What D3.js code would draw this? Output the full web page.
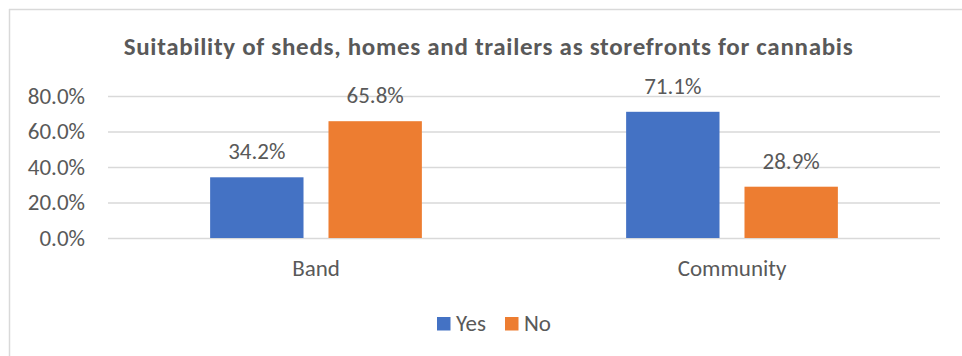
<!DOCTYPE html>
<html>
<head>
<meta charset="utf-8">
<script src="https://cdn.jsdelivr.net/npm/d3@7"></script>
<style>
  html, body { margin: 0; padding: 0; background: #fff; }
  svg text { font-family: Carlito, Calibri, Lato, sans-serif; fill: #595959; }
</style>
</head>
<body>
<svg id="chart" width="962" height="356"></svg>
<script>
// Survey results: share of respondents by group
const categories = ["Band", "Community"];
const seriesNames = ["Yes", "No"];
const yesValues = [34.2, 71.1];
const noValues = [65.8, 28.9];
const yTicks = [0, 20, 40, 60, 80];
const colors = ["#4472C4", "#ED7D31"];
const title = "Suitability of sheds, homes and trailers as storefronts for cannabis";

const rows = categories.map((c, i) => ({ category: c, values: [yesValues[i], noValues[i]] }));

const svg = d3.select("#chart");
const W = 962, H = 356;
const margin = { left: 108, right: 22, top: 96, bottom: 118 };
const labelSize = 23;

// chart area frame (top and left edges)
svg.append("line").attr("x1", 9).attr("x2", W).attr("y1", 9.5).attr("y2", 9.5)
  .attr("stroke", "#d9d9d9").attr("stroke-width", 1.5);
svg.append("line").attr("x1", 9.5).attr("x2", 9.5).attr("y1", 9).attr("y2", H)
  .attr("stroke", "#d9d9d9").attr("stroke-width", 1.5);

const x0 = d3.scaleBand().domain(categories)
  .range([margin.left, W - margin.right])
  .paddingInner(0.491).paddingOuter(0.2455);
const x1 = d3.scaleBand().domain(seriesNames)
  .range([0, x0.bandwidth()])
  .paddingInner(0.211).paddingOuter(0);
const y = d3.scaleLinear().domain([0, 80]).range([H - margin.bottom, margin.top]);

// gridlines and y axis labels
const yAxis = d3.axisLeft(y).tickValues(yTicks)
  .tickFormat(d => d.toFixed(1) + "%")
  .tickSize(-(W - margin.left - margin.right)).tickPadding(23);
const gy = svg.append("g").attr("transform", `translate(${margin.left},0)`).call(yAxis);
gy.select(".domain").remove();
gy.selectAll(".tick line").attr("stroke", "#d9d9d9").attr("stroke-width", 1.3);
gy.selectAll(".tick text").attr("font-size", labelSize).style("fill", "#595959")
  .style("font-family", "Carlito, Calibri, Lato, sans-serif");

// bars
const groups = svg.append("g").selectAll("g").data(rows).join("g")
  .attr("transform", d => `translate(${x0(d.category)},0)`);
groups.selectAll("rect").data(d => d.values.map((v, i) => ({ key: seriesNames[i], v, i })))
  .join("rect")
  .attr("x", d => x1(d.key))
  .attr("width", x1.bandwidth())
  .attr("y", d => y(d.v))
  .attr("height", d => y(0) - y(d.v))
  .attr("fill", d => colors[d.i]);

// value labels
groups.selectAll("text.val").data(d => d.values.map((v, i) => ({ key: seriesNames[i], v, i })))
  .join("text").attr("class", "val")
  .attr("x", d => x1(d.key) + x1.bandwidth() / 2)
  .attr("y", d => y(d.v) - 18)
  .attr("text-anchor", "middle")
  .attr("font-size", labelSize)
  .text(d => d.v.toFixed(1) + "%");

// category axis labels
const xAxis = d3.axisBottom(x0).tickSize(0).tickPadding(22);
const gx = svg.append("g").attr("transform", `translate(0,${y(0)})`).call(xAxis);
gx.select(".domain").remove();
gx.selectAll(".tick text").attr("font-size", labelSize).style("fill", "#595959")
  .style("font-family", "Carlito, Calibri, Lato, sans-serif");

// title
svg.append("text").attr("x", 488.5).attr("y", 55)
  .attr("text-anchor", "middle").attr("font-size", 25).attr("font-weight", "bold")
  .attr("letter-spacing", 0.7)
  .text(title);

// legend
const legend = svg.append("g").attr("transform", "translate(437,317)");
const lx = [0, 68];
seriesNames.forEach((name, i) => {
  const g = legend.append("g").attr("transform", `translate(${lx[i]},0)`);
  g.append("rect").attr("width", 13.5).attr("height", 13.5).attr("fill", colors[i]);
  g.append("text").attr("x", 19).attr("y", 14).attr("font-size", labelSize).text(name);
});
</script>
</body>
</html>
